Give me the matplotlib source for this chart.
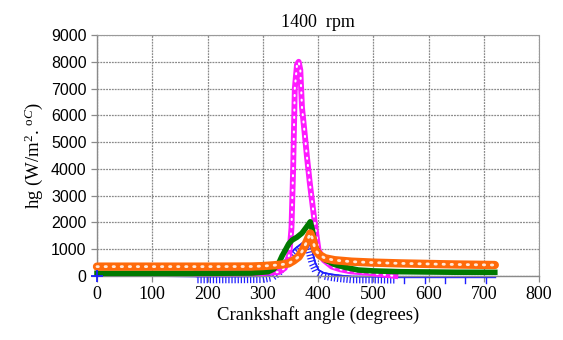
import matplotlib
matplotlib.use("Agg")
import matplotlib.pyplot as plt
import matplotlib.patheffects as pe
import numpy as np

plt.rcParams["mathtext.fontset"] = "custom"
plt.rcParams["mathtext.rm"] = "Liberation Serif"
plt.rcParams["mathtext.it"] = "Liberation Serif:italic"

title = "1400  rpm"
xlabel = "Crankshaft angle (degrees)"
ylabel = "hg (W/m$^{2}$. $^{\\mathrm{o}C}$)"
xticks = [0, 100, 200, 300, 400, 500, 600, 700, 800]
yticks = [0, 1000, 2000, 3000, 4000, 5000, 6000, 7000, 8000, 9000]

# Magenta series
mag_x = [180, 250, 300, 330, 340, 348, 352, 355, 358, 362, 365, 368, 371, 376, 380, 385, 389, 395, 401, 410, 425, 440, 460, 490, 515, 540]
mag_y = [100, 100, 110, 150, 300, 800, 1800, 4000, 7000, 7900, 8000, 7700, 6300, 5300, 4450, 3500, 2835, 1840, 970, 600, 350, 250, 170, 120, 60, 0]

# Green series
grn_x = [0, 100, 200, 280, 310, 320, 329, 335, 341, 347, 353, 362, 371, 380, 386, 390, 395, 402, 413, 430, 450, 473, 500, 550, 600, 650, 720]
grn_y = [100, 100, 100, 110, 160, 260, 480, 750, 970, 1200, 1340, 1450, 1600, 1850, 2025, 1700, 1100, 850, 600, 430, 320, 224, 190, 160, 150, 140, 137]

# Orange series
org_x = [0, 100, 200, 280, 300, 320, 335, 347, 356, 365, 372, 380, 386, 390, 395, 403, 413, 430, 461, 500, 551, 600, 650, 720]
org_y = [350, 350, 350, 355, 370, 400, 430, 470, 580, 720, 950, 1300, 1590, 1400, 970, 780, 660, 590, 535, 500, 470, 450, 430, 410]

# Blue series
blu_x = [0, 100, 180, 200, 250, 300, 315, 325, 333, 341, 350, 360, 371, 378, 385, 390, 395, 401, 410, 425, 440, 461, 500, 540, 600, 660, 720]
blu_y = [0, 0, -20, -20, -20, -10, 50, 200, 400, 600, 850, 1050, 1220, 1280, 1300, 900, 500, 224, 120, 60, 20, -20, -25, -30, -30, -30, -30]

fig = plt.figure(figsize=(5.63, 3.40), dpi=100)
ax = fig.add_axes([97/563, 1-276/340, (539-97)/563, (276-35)/340])

ax.set_xlim(0, 800)
ax.set_ylim(0, 9000)
ax.set_xticks(xticks)
ax.set_yticks(yticks)
ax.grid(True, color="#8a8a8a", linestyle=(0, (1.5, 0.8)), linewidth=0.9)
ax.set_axisbelow(True)
for s in ["top", "right"]:
    ax.spines[s].set_color("#9a9a9a")
    ax.spines[s].set_linestyle((0, (1.5, 0.8)))
for s in ["left", "bottom"]:
    ax.spines[s].set_color("#8a8a8a")
    ax.spines[s].set_linewidth(1.0)
ax.tick_params(axis="both", direction="out", length=4, color="#8a8a8a", width=0.9)

# Blue: thin line with hanging tick marks
ax.plot(blu_x, blu_y, color="#1f1fff", linewidth=1.2, clip_on=False, zorder=2)
bx = np.array(blu_x); by = np.array(blu_y)
dense = (bx >= 180) & (bx <= 540)
sparse = bx >= 540
ax.plot(bx[dense], by[dense], color="#1f1fff", linewidth=1.0, clip_on=False, zorder=2,
        path_effects=[pe.withTickedStroke(spacing=2.2, angle=-90, length=2.0,
                                          linewidth=0.9, foreground="#1f1fff")])
ax.plot(bx[sparse], by[sparse], color="#1f1fff", linewidth=1.0, clip_on=False, zorder=2,
        path_effects=[pe.withTickedStroke(spacing=13, angle=-90, length=0.35,
                                          linewidth=1.0, foreground="#1f1fff")])
ax.plot(bx[:1], by[:1], linestyle="none", marker="+", markersize=8,
        markeredgewidth=1.3, color="#1f1fff", clip_on=False, zorder=6)

# Magenta: thick line with white dots
ax.plot(mag_x, mag_y, color="#ff1aff", linewidth=4.2, clip_on=False, zorder=3)
ax.plot(mag_x, mag_y, color="white", linewidth=1.5, linestyle=(0, (0.5, 3.0)),
        dash_capstyle="round", clip_on=False, zorder=3.1)

# Green: thick solid line
ax.plot(grn_x, grn_y, color="#007a00", linewidth=4.0, clip_on=False, zorder=4)

# Orange: thick line with white dots
ax.plot(org_x, org_y, color="#ff6a0a", linewidth=6.0, solid_capstyle="round", clip_on=False, zorder=5)
ax.plot(org_x, org_y, color="white", linewidth=2.0, linestyle=(0, (0.5, 2.4)),
        dash_capstyle="round", alpha=0.85, clip_on=False, zorder=5.1)

for lab in ax.get_xticklabels():
    lab.set_fontfamily("Liberation Serif")
    lab.set_fontsize(13)
for lab in ax.get_yticklabels():
    lab.set_fontfamily("Liberation Sans")
    lab.set_fontsize(11.5)

ax.set_title(title, fontfamily="Liberation Serif", fontsize=13, pad=6)
ax.set_xlabel(xlabel, fontfamily="Liberation Serif", fontsize=13.5, labelpad=2)
ax.set_ylabel(ylabel, fontfamily="Liberation Serif", fontsize=13.5, labelpad=4)

fig.savefig("out.png", dpi=100)
